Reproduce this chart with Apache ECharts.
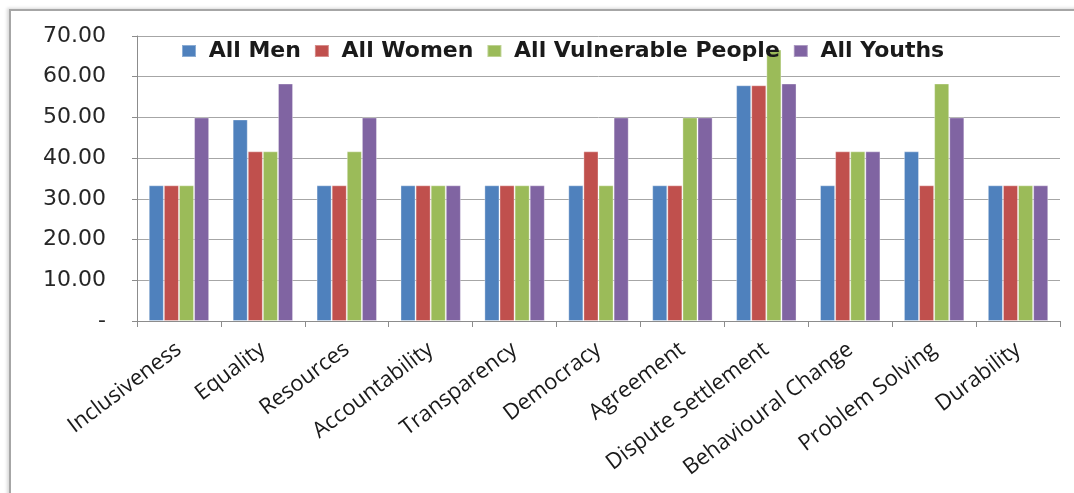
<!DOCTYPE html>
<html>
<head>
<meta charset="utf-8">
<script src="https://cdn.jsdelivr.net/npm/echarts@6/dist/echarts.min.js"></script>
<style>
  html, body { margin: 0; padding: 0; background: #fff; overflow: hidden; }
  #frame {
    position: absolute; left: 9px; top: 9px; width: 1100px; height: 520px;
    border: 2px solid #a6a6a6; box-shadow: -2px -1px 3px #d9d9d9;
  }
  #chart { position: absolute; left: 0; top: 0; width: 1074px; height: 493px; }
</style>
</head>
<body>
<div id="frame"></div>
<div id="chart"></div>
<script>
var categories = ['Inclusiveness', 'Equality', 'Resources', 'Accountability', 'Transparency',
  'Democracy', 'Agreement', 'Dispute Settlement', 'Behavioural Change', 'Problem Solving', 'Durability'];
var seriesNames = ['All Men', 'All Women', 'All Vulnerable People', 'All Youths'];
var allMen        = [33.33, 49.5, 33.33, 33.33, 33.33, 33.33, 33.33, 57.9, 33.33, 41.67, 33.33];
var allWomen      = [33.33, 41.67, 33.33, 33.33, 33.33, 41.67, 33.33, 57.9, 41.67, 33.33, 33.33];
var allVulnerable = [33.33, 41.67, 41.67, 33.33, 33.33, 33.33, 50, 66.67, 41.67, 58.33, 33.33];
var allYouths     = [50, 58.33, 50, 33.33, 33.33, 50, 50, 58.33, 41.67, 50, 33.33];
var colors = ['#4f81bd', '#c0504d', '#9bbb59', '#8064a2'];

var chart = echarts.init(document.getElementById('chart'));
var values = [allMen, allWomen, allVulnerable, allYouths];

var series = values.map(function(v, i) {
  return {
    name: seriesNames[i],
    type: 'bar',
    data: v,
    barGap: '0%',
    barCategoryGap: '28%',
    itemStyle: { color: colors[i], borderColor: 'rgba(255,255,255,0.35)', borderWidth: 1 }
  };
});

chart.setOption({
  animation: false,
  color: colors,
  legend: {
    data: seriesNames,
    left: 176,
    top: 35,
    itemWidth: 14,
    itemHeight: 12,
    itemGap: 13,
    icon: 'rect',
    formatter: ' {name}',
    textStyle: { fontSize: 22, fontWeight: 'bold', color: '#1a1a1a', fontFamily: 'DejaVu Sans' }
  },
  grid: { left: 137, right: 14, top: 36, bottom: 172 },
  xAxis: {
    type: 'category',
    data: categories,
    axisLine: { lineStyle: { color: '#8c8c8c' } },
    axisTick: { show: true, length: 6, lineStyle: { color: '#8c8c8c' } },
    axisLabel: {
      rotate: 37,
      interval: 0,
      fontSize: 22,
      color: '#1a1a1a',
      margin: 26,
      fontFamily: 'Open Sans'
    }
  },
  yAxis: {
    type: 'value',
    min: 0,
    max: 70,
    interval: 10,
    axisLine: { show: true, lineStyle: { color: '#8c8c8c' } },
    axisTick: { show: true, length: 5, lineStyle: { color: '#8c8c8c' } },
    splitLine: { lineStyle: { color: '#a6a6a6' } },
    axisLabel: {
      fontSize: 22,
      color: '#262626',
      margin: 31,
      fontFamily: 'DejaVu Sans',
      formatter: function(v) { return v === 0 ? '-' : v.toFixed(2); }
    }
  },
  series: series
});
</script>
</body>
</html>
